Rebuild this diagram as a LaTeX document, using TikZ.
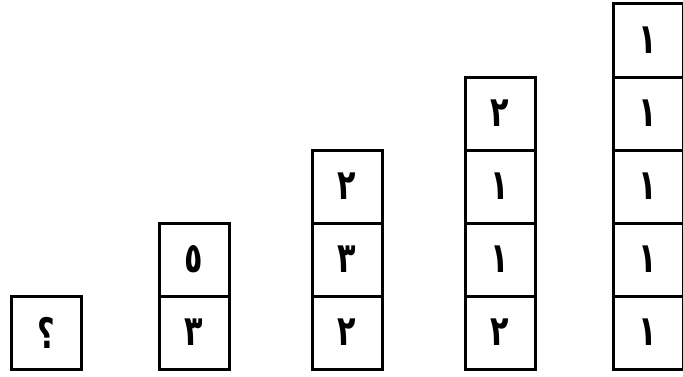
\documentclass[tikz,border=0pt]{standalone}
\usepackage{fontspec}
\usepackage{tikz}
\newfontfamily\arabicfont[Script=Arabic]{DejaVu Sans}
\TeXXeTstate=1
\newcommand{\dg}[1]{\scalebox{0.72}[1]{\arabicfont\bfseries\beginR #1\endR}}

\begin{document}
\begin{tikzpicture}[x=1pt,y=1pt,
  cell/.style={draw,line width=3pt,minimum width=70pt,minimum height=73pt,
    inner sep=0pt,outer sep=0pt,font=\fontsize{42}{44}\selectfont}]
  \useasboundingbox (0,0) rectangle (683,376);
  % single box
  \node[cell] (q) at (46,43.5) {\dg{؟}};
  % two boxes
  \node[cell] (a1) at (194,43.5) {\dg{٣}};
  \node[cell] (a2) at (194,116.5) {\dg{٥}};
  % three boxes
  \node[cell] (b1) at (347,43.5) {\dg{٢}};
  \node[cell] (b2) at (347,116.5) {\dg{٣}};
  \node[cell] (b3) at (347,189.5) {\dg{٢}};
  % four boxes
  \node[cell] (c1) at (500,43.5) {\dg{٢}};
  \node[cell] (c2) at (500,116.5) {\dg{١}};
  \node[cell] (c3) at (500,189.5) {\dg{١}};
  \node[cell] (c4) at (500,262.5) {\dg{٢}};
  % five boxes
  \node[cell] (d1) at (648,43.5) {\dg{١}};
  \node[cell] (d2) at (648,116.5) {\dg{١}};
  \node[cell] (d3) at (648,189.5) {\dg{١}};
  \node[cell] (d4) at (648,262.5) {\dg{١}};
  \node[cell] (d5) at (648,335.5) {\dg{١}};
\end{tikzpicture}
\end{document}
